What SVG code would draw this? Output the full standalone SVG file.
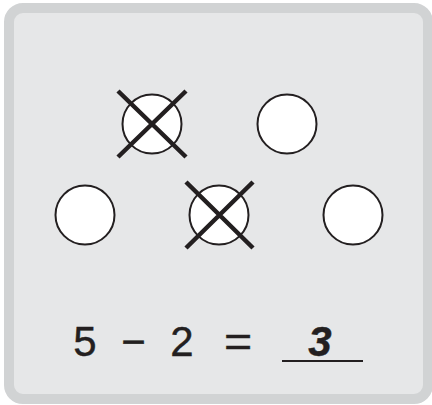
<svg xmlns="http://www.w3.org/2000/svg" width="432" height="405" viewBox="0 0 432 405">
<style>
.c{fill:#ffffff;stroke:#231f20;stroke-width:2}
.x{stroke:#231f20;stroke-width:4.5;stroke-linecap:butt;fill:none}
.t{font-family:"Liberation Sans",Arial,sans-serif;font-size:42px;fill:#231f20;text-anchor:middle;stroke:#231f20;stroke-width:0.4}
</style>
<rect x="9" y="8" width="419" height="391" rx="14" fill="#e6e7e8" stroke="#d1d3d4" stroke-width="10"/>
<g id="circle1"><circle class="c" cx="152" cy="124" r="29.5"/><path class="x" d="M118 91L186 157M186 91L118 157"/></g>
<g id="circle2"><circle class="c" cx="287" cy="124" r="29.5"/></g>
<g id="circle3"><circle class="c" cx="85" cy="215" r="29.5"/></g>
<g id="circle4"><circle class="c" cx="219" cy="215" r="29.5"/><path class="x" d="M186 182L253 248M253 182L186 248"/></g>
<g id="circle5"><circle class="c" cx="353" cy="215" r="29.5"/></g>
<g id="equation">
<text class="t" x="85" y="356">5</text>
<text class="t" x="133.5" y="356">−</text>
<text class="t" x="182" y="356">2</text>
<text class="t" x="238" y="356" transform="translate(238 0) scale(1.15 1) translate(-238 0)">=</text>
<text class="t" x="320" y="356" font-weight="bold" font-style="italic">3</text>
<line x1="282" y1="361" x2="363" y2="361" stroke="#231f20" stroke-width="2.2"/>
</g>
</svg>
